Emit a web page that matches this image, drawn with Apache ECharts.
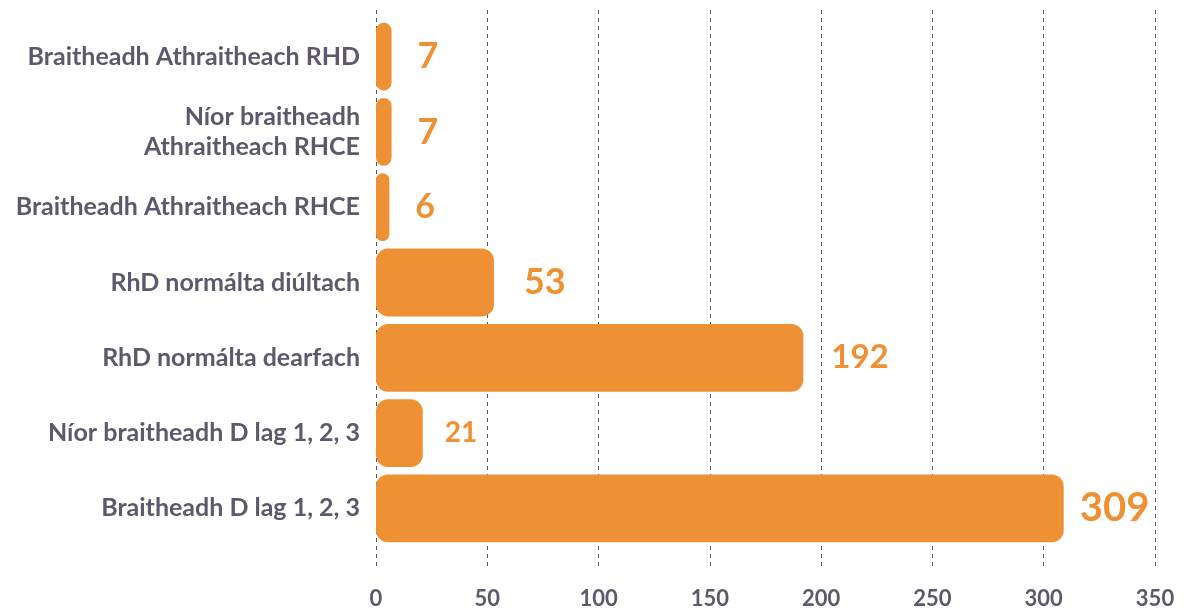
<!DOCTYPE html>
<html>
<head>
<meta charset="utf-8">
<title>Braitheadh</title>
<script src="https://cdn.jsdelivr.net/npm/echarts@6/dist/echarts.min.js"></script>
<style>
  html, body { margin: 0; padding: 0; background: #fff; }
  #chart { width: 1190px; height: 612px; }
</style>
</head>
<body>
<div id="chart"></div>
<script>
// categories, top to bottom
const categories = [
  'Braitheadh Athraitheach RHD',
  'Níor braitheadh\nAthraitheach RHCE',
  'Braitheadh Athraitheach RHCE',
  'RhD normálta diúltach',
  'RhD normálta dearfach',
  'Níor braitheadh D lag 1, 2, 3',
  'Braitheadh D lag 1, 2, 3'
]
const values = [7, 7, 6, 53, 192, 21, 309]
// size of the value label per bar, as drawn in the source
const labelSizes = [36, 36, 34, 36, 33, 28, 40]
const labelGaps = [26, 26, 26, 30, 28, 22, 16]
const xTicks = { min: 0, max: 350, interval: 50 }

const orange = '#ee9134'
const ink = '#5e586c'
const font = 'Lato, "Open Sans", sans-serif'

let chart = echarts.init(document.getElementById('chart'))

let seriesData = values.map((v, i) => ({
  value: v,
  label: {
    fontSize: labelSizes[i],
    distance: labelGaps[i]
  }
}))

let option = {
  animation: false,
  grid: [
    // bars
    { left: 376, right: 35, top: 19, bottom: 66 },
    // dashed lines + value labels, taller than the bars
    { left: 376, right: 35, top: 10, bottom: 44 }
  ],
  xAxis: [
    {
      gridIndex: 0,
      type: 'value',
      min: xTicks.min,
      max: xTicks.max,
      interval: xTicks.interval,
      show: false
    },
    {
      gridIndex: 1,
      type: 'value',
      min: xTicks.min,
      max: xTicks.max,
      interval: xTicks.interval,
      axisLine: { show: false },
      axisTick: { show: false },
      axisLabel: {
        margin: 20,
        fontSize: 22,
        fontWeight: 'bold',
        fontFamily: font,
        color: ink
      },
      splitLine: {
        show: true,
        lineStyle: { color: '#555', type: [4, 4], width: 1 }
      }
    }
  ],
  yAxis: [
    {
      gridIndex: 0,
      type: 'category',
      inverse: true,
      data: categories,
      axisLine: { show: false },
      axisTick: { show: false },
      splitLine: { show: false },
      axisLabel: {
        margin: 16,
        fontSize: 25,
        fontWeight: 'bold',
        fontFamily: font,
        color: ink,
        lineHeight: 30,
        align: 'right'
      }
    },
    {
      gridIndex: 1,
      type: 'category',
      data: categories,
      show: false
    }
  ],
  series: [
    {
      type: 'bar',
      xAxisIndex: 0,
      yAxisIndex: 0,
      data: seriesData,
      barCategoryGap: '10%',
      itemStyle: { color: orange, borderRadius: 12 },
      label: {
        show: true,
        position: 'right',
        color: orange,
        fontWeight: 'bold',
        fontFamily: font
      }
    }
  ]
}

chart.setOption(option)
window.addEventListener('resize', () => chart.resize())
</script>
</body>
</html>
